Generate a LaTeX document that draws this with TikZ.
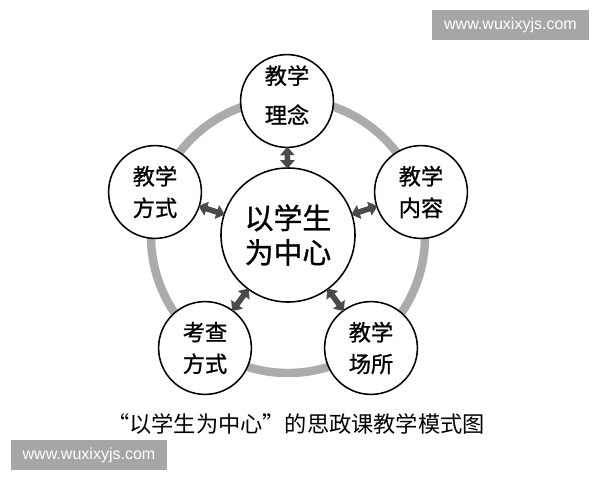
\documentclass[tikz,border=0pt]{standalone}
\usepackage{fontspec}
\setmainfont{Liberation Sans}
\newfontfamily\cjk{Noto Sans CJK SC}
\newfontfamily\cjkm[FakeBold=1]{Noto Sans CJK SC}
\usetikzlibrary{arrows.meta, backgrounds}
\definecolor{ringGray}{HTML}{ABABAB}
\definecolor{arrowGray}{HTML}{4A4A4A}
\definecolor{markGray}{HTML}{A6A6A6}

\begin{document}
\begin{tikzpicture}[x=0.025cm, y=-0.025cm,
        sat/.style={circle, draw, line width=1.1pt, fill=white, minimum size=2.32cm, inner sep=0pt,
            align=center, font=\cjkm\fontsize{15.8}{22.5}\selectfont},
        hub/.style={circle, draw, line width=1.1pt, fill=white, minimum size=3.35cm, inner sep=0pt,
            align=center, font=\cjkm\fontsize{20.5}{24.5}\selectfont},
        link/.style={{Triangle[length=6pt,width=10pt]}-{Triangle[length=6pt,width=10pt]},
            line width=4pt, arrowGray, shorten <=-1pt, shorten >=-1pt},
        wmark/.style={fill=markGray, text=white, inner sep=0pt, minimum width=3.9cm,
            minimum height=0.75cm, font=\fontsize{11.4}{13}\selectfont}
    ]
    \useasboundingbox (0,0) rectangle (600,480);
    \fill[white] (0,0) rectangle (600,480);

    % ring behind the circles
    \draw[ringGray, line width=6pt] (288,236) circle (137*0.025cm);

    \node[hub] (c) at (288,235) {以学生\\为中心};
    \node[sat] (t) at (287,101) {};
    \node[align=center, font=\cjkm\fontsize{15.8}{28}\selectfont] (tl) at (287,95) {教学\\理念};
    \node[sat] (l) at (155,192) {教学\\方式};
    \node[sat] (r) at (421,192) {教学\\内容};
    \node[sat] (bl) at (205,348) {考查\\方式};
    \node[sat] (br) at (371,348) {教学\\场所};

    \draw[link] (t) -- (c);
    \draw[link] (l) -- (c);
    \draw[link] (r) -- (c);
    \draw[link] (bl) -- (c);
    \draw[link] (br) -- (c);

    \node[font=\cjk\fontsize{15.8}{18}\selectfont] (cap) at (296,424) {“以学生为中心”的思政课教学模式图};

    \node[wmark] (w1) at (510.5,25) {www.wuxixyjs.com};
    \node[wmark] (w2) at (89,455) {www.wuxixyjs.com};
\end{tikzpicture}
\end{document}
